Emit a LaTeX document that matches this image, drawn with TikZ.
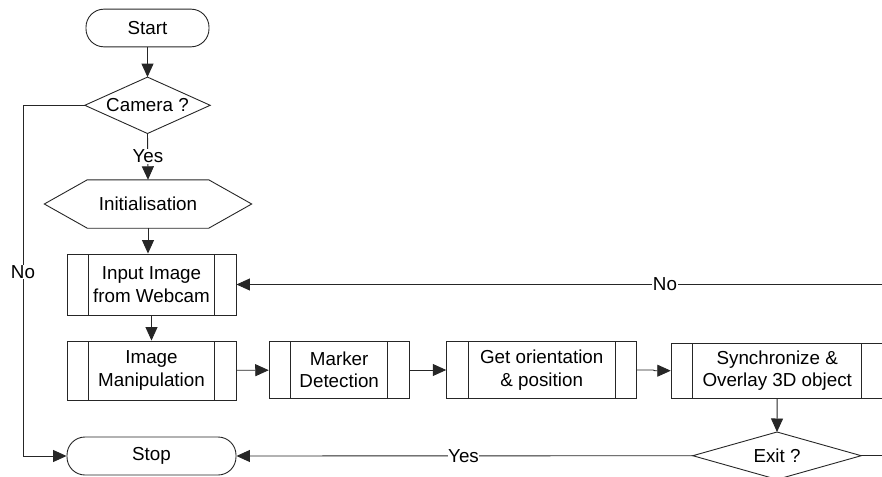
\documentclass[tikz,border=0pt]{standalone}
\usepackage{fontspec}
\setmainfont{Liberation Sans}
\usetikzlibrary{arrows.meta}
\begin{document}
\begin{tikzpicture}[x=1pt,y=-1pt,
  every node/.style={font=\fontsize{18.8}{22.3}\selectfont, inner sep=0pt, align=center},
  ln/.style={line width=0.9pt, draw=black!85},
  arr/.style={ln, -{Triangle[length=13.5pt,width=12pt]}},
  term/.style={draw=black!85, line width=0.9pt, rounded corners=18pt, minimum width=123pt, minimum height=37.7pt},
  shapeonly/.style={inner sep=0pt},
  proc/.style={draw=black!85, line width=0.9pt,
    path picture={\draw[line width=0.9pt, black!85]
      ([xshift=21.5pt]path picture bounding box.north west) -- ([xshift=21.5pt]path picture bounding box.south west)
      ([xshift=-21.5pt]path picture bounding box.north east) -- ([xshift=-21.5pt]path picture bounding box.south east);}},
  lbl/.style={fill=white, inner sep=0.5pt}
]
\useasboundingbox (0,0) rectangle (882,476);
\clip (0,0) rectangle (882,476);

% nodes
\node[term] (start) at (147.5,28) {Start};
\node[shapeonly, minimum width=125pt, minimum height=56pt] (camera) at (147.5,105.3) {Camera ?};
\draw[ln] (camera.west) -- (camera.north) -- (camera.east) -- (camera.south) -- cycle;
\node[shapeonly, minimum width=207pt, minimum height=48pt] (init) at (148,204) {Initialisation};
\draw[ln] (init.west) -- ([xshift=43pt]init.north west) -- ([xshift=-43pt]init.north east)
  -- (init.east) -- ([xshift=-43pt]init.south east) -- ([xshift=43pt]init.south west) -- cycle;
\node[proc, minimum width=169pt, minimum height=61pt] (input) at (151.5,284.5) {Input Image\\from Webcam};
\node[proc, minimum width=169pt, minimum height=59pt] (manip) at (151.5,370.5) {Image\\Manipulation};
\node[proc, minimum width=140pt, minimum height=57pt] (marker) at (339.2,370) {Marker\\Detection};
\node[proc, minimum width=190pt, minimum height=57pt] (orient) at (541.7,370) {Get orientation\\\& position};
\node[proc, minimum width=212pt, minimum height=55pt] (sync) at (777.2,370.7) {Synchronize \&\\Overlay 3D object};
\node[shapeonly, minimum width=168pt, minimum height=47pt] (exit) at (777,455.7) {Exit ?};
\draw[ln] (exit.west) -- (exit.north) -- (exit.east) -- (exit.south) -- cycle;
\node[term, minimum width=169pt, minimum height=38pt] (stop) at (151.5,456) {Stop};

\coordinate (leftx) at (23,0);
\coordinate (redgeA) at (890,284.5);
\coordinate (redgeB) at (890,455.7);
\coordinate (jog) at (653,0);

% connectors
\draw[arr] (start) -- (camera.north);
\draw[arr] (camera.south) -- (init.north);
\node[lbl] (yeslbl) at (148,156.5) {Yes};
\draw[arr] (init.south) -- (init.south |- input.north);
\draw[arr] (input) -- (manip);
\draw[arr] (manip) -- (marker);
\draw[arr] (marker) -- (orient);
\draw[arr] (orient.east) -- (orient.east -| jog) -- ([xshift=2pt]jog |- sync.west) -- (sync.west);
\draw[arr] (sync) -- (exit.north);
\draw[arr] (exit.west) -- (stop.east);
\node[lbl] (yeslbl2) at (463.5,455.7) {Yes};
\draw[ln] (exit.east) -- (redgeB);
\draw[arr] (redgeA) -- (input.east);
\node[lbl] (nolbl2) at (665,284.5) {No};
\draw[arr] (camera.west) -- (camera.west -| leftx) |- (stop.west);
\node[lbl] (nolbl) at (23,271.7) {No};
\end{tikzpicture}
\end{document}
